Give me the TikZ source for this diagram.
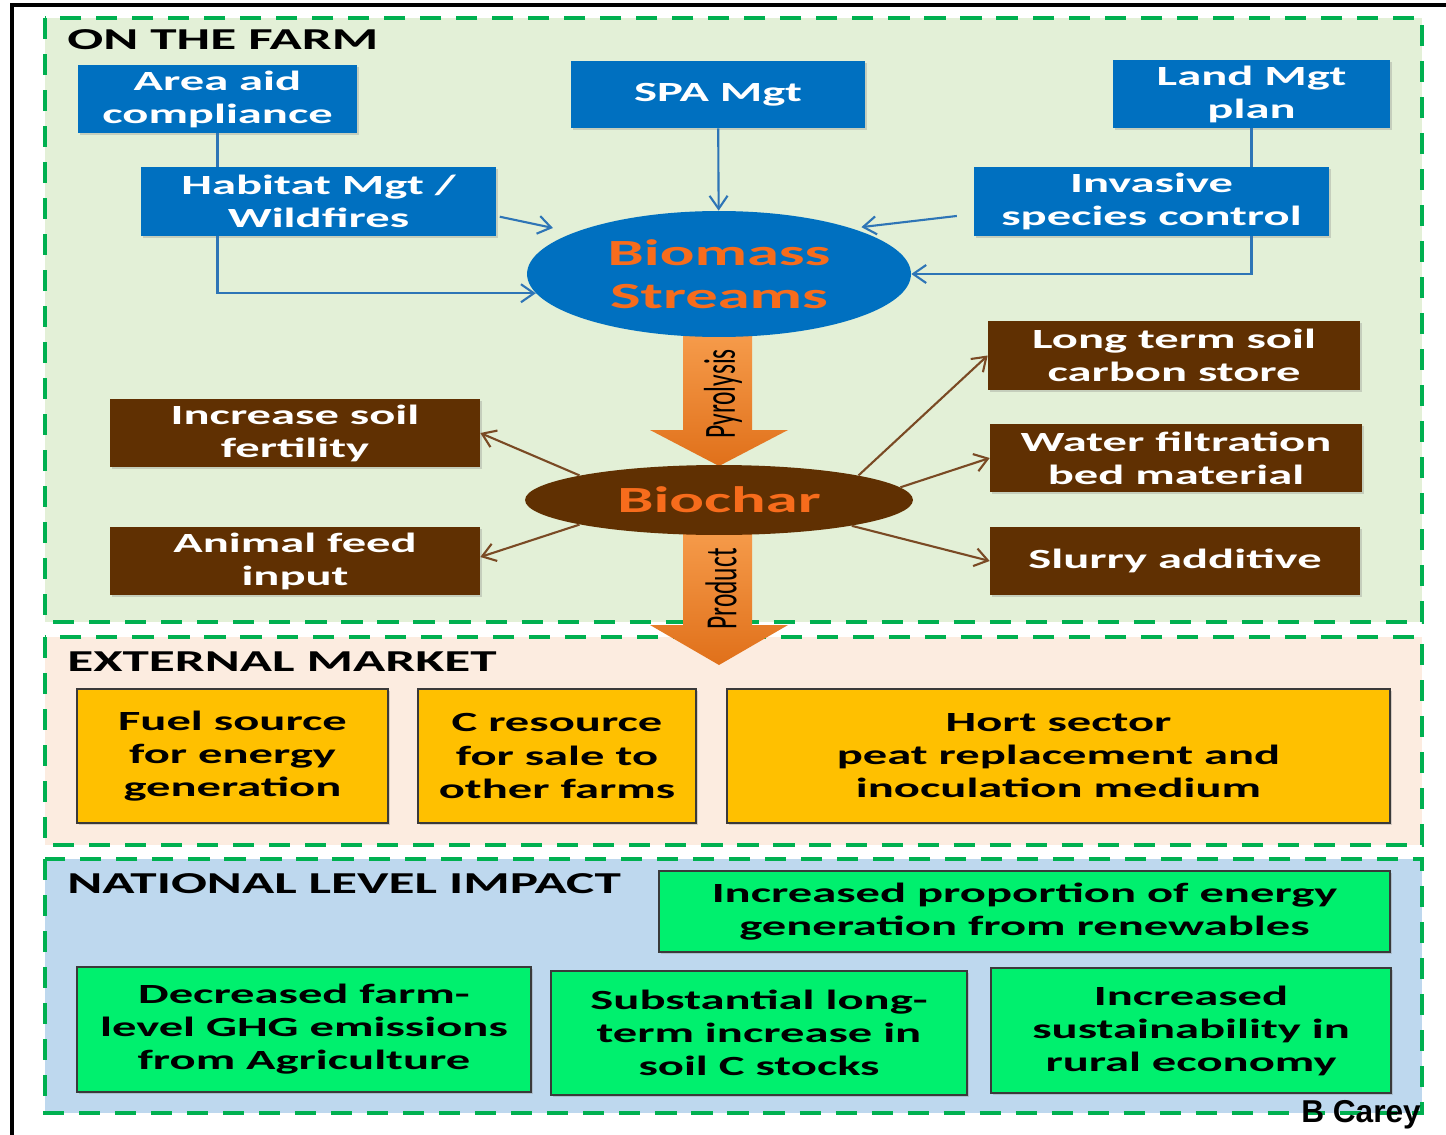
\documentclass[tikz,border=0pt]{standalone}
\usepackage{fontspec}
\setmainfont{Carlito}
\newfontfamily\widefont{Carlito}[FakeStretch=1.75]
\newfontfamily\sigfont{Liberation Sans}
\usepackage{tikz}
\usetikzlibrary{arrows.meta,shapes.geometric,shadows}
\definecolor{bcblue}{HTML}{0070C0}
\definecolor{bcline}{HTML}{2E75B6}
\definecolor{bcbrown}{RGB}{96,48,2}
\definecolor{bcbrownline}{RGB}{122,74,36}
\definecolor{bcorange}{RGB}{247,108,28}
\definecolor{bcorangeA}{HTML}{F8A050}
\definecolor{bcorangeB}{HTML}{E0701A}
\definecolor{bcyellow}{HTML}{FFC000}
\definecolor{bcgreen}{RGB}{0,240,110}
\definecolor{bcedge}{HTML}{3A3A3A}
\definecolor{bcdash}{HTML}{00B050}
\definecolor{bcfarm}{RGB}{227,240,215}
\definecolor{bcmarket}{RGB}{252,236,224}
\definecolor{bcnation}{RGB}{190,216,238}

\begin{document}
\begin{tikzpicture}[x=0.02cm,y=-0.02cm,
  panel/.style={draw=bcdash,line width=2.3pt,dash pattern=on 12pt off 8.5pt},
  title/.style={anchor=west,inner sep=0pt,font=\widefont\bfseries\fontsize{17.3}{20}\selectfont},
  box/.style={rectangle,inner sep=0pt,align=center,font=\widefont\bfseries\fontsize{15.8}{18.8}\selectfont,
    drop shadow={shadow xshift=1.2pt,shadow yshift=-1.2pt,opacity=.3}},
  bluebox/.style={box,fill=bcblue,text=white},
  brownbox/.style={box,fill=bcbrown,text=white},
  marketbox/.style={box,fill=bcyellow,draw=bcedge,line width=1.1pt,text=black},
  impactbox/.style={box,fill=bcgreen,draw=bcedge,line width=1.1pt,text=black},
  hub/.style={ellipse,inner sep=0pt,align=center,text=bcorange,font=\widefont\bfseries\fontsize{21}{24.5}\selectfont},
  bl/.style={bcline,line width=1.2pt},
  ba/.style={bl,-{Straight Barb[length=2.6mm,width=3.6mm]}},
  br/.style={bcbrownline,line width=1.2pt,-{Straight Barb[length=2.6mm,width=3.6mm]}},
  fat/.style={top color=bcorangeA,bottom color=bcorangeB,draw=none},
  fattext/.style={rotate=90,inner sep=0pt,font=\fontsize{14.5}{16}\selectfont}]
\useasboundingbox (0,0) rectangle (1446,1135);
\draw[line width=2.3pt] (12,1135) -- (12,5) -- (1446,5);

% three panels
\draw[panel,fill=bcfarm] (45,18) rectangle (1422,622);
\draw[panel,fill=bcmarket] (45,637) rectangle (1422,845);
\draw[panel,fill=bcnation] (45,859) rectangle (1422,1113);
\node[title] (farmT) at (67,40) {ON THE FARM};
\node[title] (marketT) at (67,662) {EXTERNAL MARKET};
\node[title] (nationT) at (67,884) {NATIONAL LEVEL IMPACT};

% block arrows
\path[fat] (683,320) -- (752,320) -- (752,430) -- (788,430) -- (719,466) -- (650,430) -- (683,430) -- cycle;
\path[fat] (683,515) -- (752,515) -- (752,625) -- (788,625) -- (719,665) -- (650,625) -- (683,625) -- cycle;
\node[fattext] (pyroT) at (723,394) {\scalebox{1}[1.75]{Pyrolysis}};
\node[fattext] (prodT) at (721,589) {\scalebox{1}[1.75]{Product}};

% on the farm
\node[bluebox,minimum width=5.58cm,minimum height=1.36cm] (area) at (217.5,99) {Area aid\\compliance};
\node[bluebox,minimum width=5.88cm,minimum height=1.34cm] (spa) at (718,94.5) {SPA Mgt};
\node[bluebox,minimum width=5.54cm,minimum height=1.36cm] (land) at (1251.5,94) {Land Mgt\\plan};
\node[bluebox,minimum width=7.1cm,minimum height=1.38cm] (habitat) at (318.5,201.5) {Habitat Mgt /\\Wildfires};
\node[bluebox,minimum width=7.1cm,minimum height=1.38cm] (invasive) at (1151.5,201.5) {Invasive\\species control};
\node[hub,fill=bcblue,minimum width=7.68cm,minimum height=2.52cm] (biomass) at (719,274) {Biomass\\Streams};
\node[hub,fill=bcbrown,minimum width=7.76cm,minimum height=1.4cm] (biochar) at (719,500) {Biochar};
\node[brownbox,minimum width=7.4cm,minimum height=1.36cm] (fertility) at (295,433) {Increase soil\\fertility};
\node[brownbox,minimum width=7.4cm,minimum height=1.36cm] (feed) at (295,561) {Animal feed\\input};
\node[brownbox,minimum width=7.44cm,minimum height=1.38cm] (carbon) at (1174,355.5) {Long term soil\\carbon store};
\node[brownbox,minimum width=7.44cm,minimum height=1.36cm] (water) at (1176,458) {Water filtration\\bed material};
\node[brownbox,minimum width=7.4cm,minimum height=1.36cm] (slurry) at (1175,561) {Slurry additive};

% external market
\node[marketbox,minimum width=6.22cm,minimum height=2.68cm] (fuel) at (232.5,756) {Fuel source\\for energy\\generation};
\node[marketbox,minimum width=5.56cm,minimum height=2.68cm] (cres) at (557,756) {C resource\\for sale to\\other farms};
\node[marketbox,minimum width=13.26cm,minimum height=2.68cm] (hort) at (1058.5,756) {Hort sector\\peat replacement and\\inoculation medium};

% national level
\node[impactbox,minimum width=14.62cm,minimum height=1.62cm] (renew) at (1024.5,911.5) {Increased proportion of energy\\generation from renewables};
\node[impactbox,minimum width=9.08cm,minimum height=2.5cm] (ghg) at (304,1029.5) {Decreased farm-\\level GHG emissions\\from Agriculture};
\node[impactbox,minimum width=8.32cm,minimum height=2.48cm] (soilc) at (759,1033) {Substantial long-\\term increase in\\soil C stocks};
\node[impactbox,minimum width=8cm,minimum height=2.5cm] (rural) at (1191,1030.5) {Increased\\sustainability in\\rural economy};

\node[font=\sigfont\bfseries\fontsize{18}{20}\selectfont,inner sep=0pt] (sig) at (1361,1115) {B Carey};

% inputs to biomass
\draw[bl] (area) -- (area |- habitat.north);
\draw[ba] (area |- habitat.south) |- (biomass.186);
\draw[ba,shorten <=2pt,shorten >=0.43cm] ([yshift=-0.29cm]habitat.east) -- (biomass.164);
\draw[ba] (spa) -- (biomass);
\draw[ba,shorten <=0.34cm,shorten >=0.19cm] ([yshift=-0.25cm]invasive.west) -- (biomass.19);
\draw[bl] (land) -- (land |- invasive.north);
\draw[ba] (land |- invasive.south) |- (biomass.east);

% uses of biochar
\draw[br] (biochar.170) -- (fertility.east);
\draw[br] (biochar.190) -- ([yshift=0.08cm]feed.east);
\draw[br] (biochar.10) -- (carbon.west);
\draw[br] (biochar.4) -- (water.west);
\draw[br] (biochar.-11) -- (slurry.west);
\end{tikzpicture}
\end{document}
